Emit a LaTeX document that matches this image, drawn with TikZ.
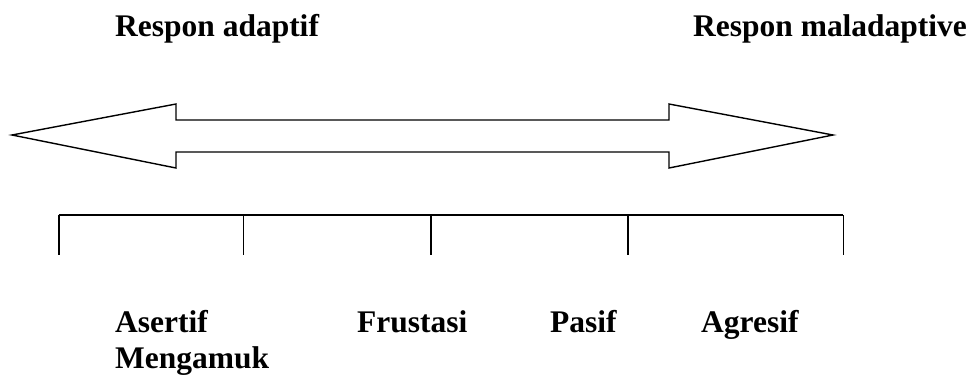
\documentclass[tikz,border=0pt]{standalone}
\usepackage{fontspec}
\setmainfont{Liberation Serif}
\begin{document}
\begin{tikzpicture}[x=1bp,y=-1bp,
  label/.style={anchor=base west,inner sep=0pt,font=\bfseries\fontsize{31.6}{36}\selectfont},
  outline/.style={draw=black,line width=1.4bp,line join=miter},
  scale line/.style={draw=black,line width=1.6bp}]
\useasboundingbox (0,0) rectangle (970,376);

% headings
\node[label] (adaptif) at (115,36) {Respon adaptif};
\node[label] (maladaptif) at (693,36) {Respon maladaptive};

% double-headed block arrow
\draw[outline] (12,135) -- (176,104) -- (176,120) -- (669,120) -- (669,104)
  -- (833,135) -- (669,168) -- (669,152) -- (176,152) -- (176,168) -- cycle;

% scale with tick marks
\coordinate (t0) at (58.7,215);
\coordinate (t1) at (243.3,215);
\coordinate (t2) at (430.7,215);
\coordinate (t3) at (627.7,215);
\coordinate (t4) at (843.3,215);
\draw[scale line] (t0) -- (t4);
\foreach \t in {t0,t1,t2,t3,t4}
  \draw[scale line] (\t) -- ++(0,40);

% response categories
\node[label] (asertif) at (115,332) {Asertif};
\node[label] (mengamuk) at (115,368) {Mengamuk};
\node[label] (frustasi) at (357,332) {Frustasi};
\node[label] (pasif) at (550,332) {Pasif};
\node[label] (agresif) at (701,332) {Agresif};
\end{tikzpicture}
\end{document}
